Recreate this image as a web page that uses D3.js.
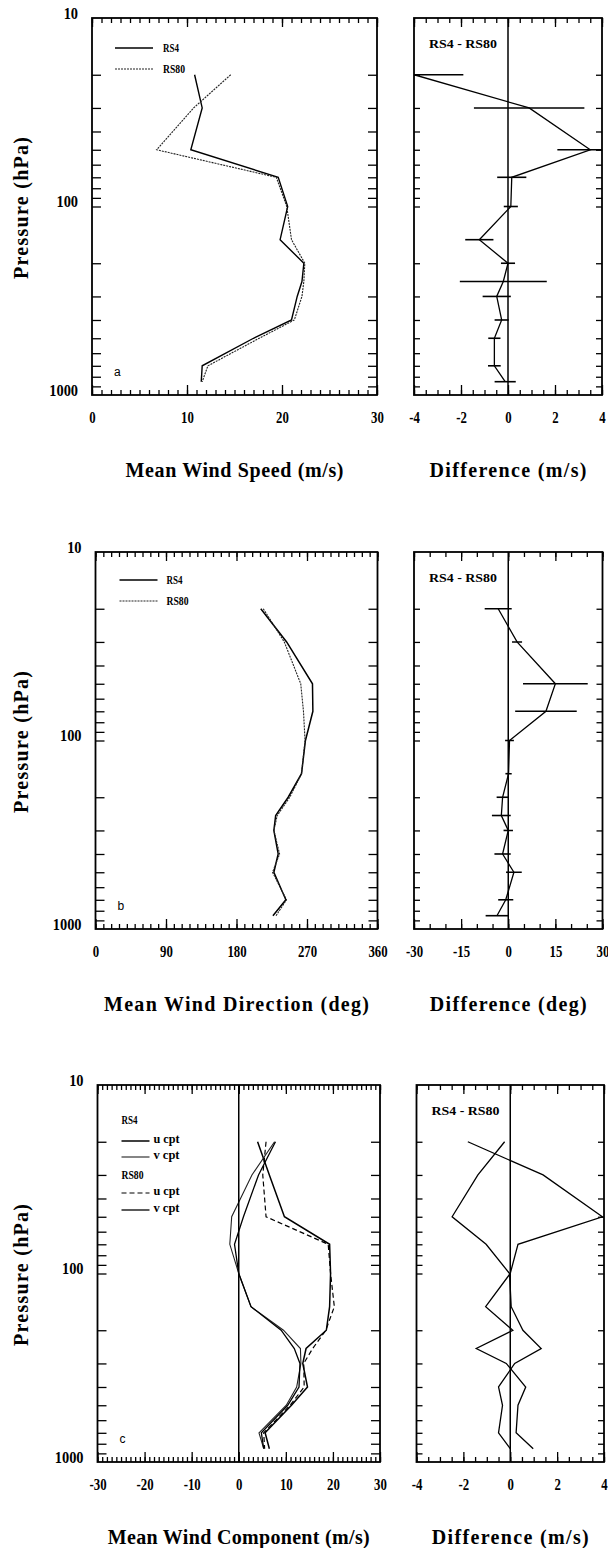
<!DOCTYPE html>
<html>
<head>
<meta charset="utf-8">
<script src="https://cdn.jsdelivr.net/npm/d3@7"></script>
<style>
  body { margin: 0; background: #fff; }
  svg { display: block; background: #fff; }
</style>
</head>
<body>
<svg id="chart" width="608" height="1548"></svg>
<script>
const svg = d3.select("#chart");
const SERIF = "'Liberation Serif', 'DejaVu Serif', serif";
const SANS = "'Liberation Sans', Arial, sans-serif";

// pressure levels (hPa) of the soundings
const levels = [20, 30, 50, 70, 100, 150, 200, 250, 300, 400, 500, 700, 850];
const pTicks = [20, 30, 40, 50, 60, 70, 80, 90, 100, 200, 300, 400, 500, 600, 700, 800, 900];
const pLabels = [10, 100, 1000];

// a: mean wind speed (m/s)
const speedRS4  = [10.8, 11.6, 10.4, 19.6, 20.6, 19.8, 22.3, 22.1, 21.6, 21.0, 17.0, 11.6, 11.5];
const speedRS80 = [14.6, 10.7, 6.8, 19.4, 20.5, 21.0, 22.4, 22.3, 22.1, 21.3, 17.6, 12.2, 11.6];
const speedDiff = [-4.0, 0.9, 3.5, 0.16, 0.12, -1.22, 0.0, -0.2, -0.48, -0.27, -0.58, -0.58, -0.12];
const speedErr  = [2.1, 2.35, 1.4, 0.62, 0.3, 0.6, 0.3, 1.85, 0.6, 0.3, 0.26, 0.27, 0.45];

// b: mean wind direction (deg)
const dirRS4  = [211, 244, 277, 277.5, 268, 263, 246, 230, 227.7, 233.2, 227.7, 243, 226.5];
const dirRS80 = [214.2, 241, 262, 265.5, 267.5, 263, 248, 232, 227.7, 235, 226, 243.8, 230.5];
const dirDiff = [-3.2, 2.8, 15.0, 12.0, 0.4, 0.1, -1.8, -2.2, 0.0, -1.8, 1.8, -0.8, -3.6];
const dirErr  = [4.3, 1.6, 10.3, 9.8, 1.4, 1.0, 1.9, 3.0, 1.5, 2.6, 2.5, 2.4, 3.6];

// c: mean wind components (m/s)
const uRS4  = [4.0, 6.5, 9.7, 19.3, 19.5, 19.3, 18.6, 14.3, 13.6, 14.6, 11.2, 5.6, 6.5];
const vRS4  = [7.6, 2.8, -1.5, -1.9, 0.0, 2.6, 9.5, 13.1, 13.2, 12.3, 10.1, 4.3, 5.3];
const uRS80 = [5.8, 5.1, 5.8, 19.0, 19.5, 20.3, 18.5, 15.7, 13.8, 13.9, 10.9, 5.3, 5.5];
const vRS80 = [7.8, 4.2, 1.0, -0.9, 0.0, 2.6, 9.0, 11.8, 13.0, 12.8, 10.4, 4.8, 5.3];
const uDiff = [-1.81, 1.4, 3.93, 0.33, 0.0, -1.05, 0.11, -1.45, -0.17, 0.66, 0.33, 0.25, 0.98];
const vDiff = [-0.24, -1.38, -2.48, -1.03, -0.03, 0.04, 0.54, 1.32, 0.19, -0.5, -0.33, -0.5, 0.0];

// x axis ticks
const speedMajor = [0, 10, 20, 30];
const dirMajor = [0, 90, 180, 270, 360];
const compMajor = [-30, -20, -10, 0, 10, 20, 30];
const diffMajor = [-4, -2, 0, 2, 4];
const dirDiffMajor = [-30, -15, 0, 15, 30];

const H = 377;
const rows = [
  { top: 18,   main: [92, 377],     diff: [414, 602] },
  { top: 552,  main: [95.5, 377.5], diff: [414, 602.5] },
  { top: 1085, main: [97.5, 380],   diff: [416.5, 604] }
];

const line = (x, y) => d3.line().x(d => x(d.v)).y(d => y(d.p));
const pairs = vals => vals.map((v, i) => ({ p: levels[i], v: v }));
let clipId = 0;

// box, inward ticks and bottom labels of one panel
function drawFrame(g, x, y, minor, major, pTick) {
  const [x0, x1] = x.range(), [y0, y1] = y.range();
  const clean = a => a.call(s => s.select(".domain").remove())
    .selectAll("line").attr("stroke-width", 1.3);

  g.append("g").attr("transform", `translate(${x0},0)`)
    .call(d3.axisLeft(y).tickValues(pTicks).tickSize(-pTick).tickFormat(""))
    .call(clean);
  g.append("g").attr("transform", `translate(${x1},0)`)
    .call(d3.axisRight(y).tickValues(pTicks).tickSize(-pTick).tickFormat(""))
    .call(clean);

  g.append("g").attr("transform", `translate(0,${y0})`)
    .call(d3.axisTop(x).tickValues(minor).tickSize(-5).tickFormat(""))
    .call(clean);
  g.append("g").attr("transform", `translate(0,${y0})`)
    .call(d3.axisTop(x).tickValues(major).tickSize(-9).tickFormat(""))
    .call(clean);
  g.append("g").attr("transform", `translate(0,${y1})`)
    .call(d3.axisBottom(x).tickValues(minor).tickSize(-5).tickFormat(""))
    .call(clean);
  const bottom = g.append("g").attr("transform", `translate(0,${y1})`)
    .call(d3.axisBottom(x).tickValues(major).tickSize(-10).tickPadding(17).tickFormat(d => String(d)));
  bottom.call(clean);
  bottom.attr("font-family", SERIF).attr("font-size", 16).attr("font-weight", "bold");
  bottom.selectAll("text").attr("transform", "scale(0.8,1)");

  g.append("rect")
    .attr("x", x0).attr("y", y0)
    .attr("width", x1 - x0).attr("height", y1 - y0)
    .attr("fill", "none").attr("stroke", "#000").attr("stroke-width", 1.8);

  const id = "clip" + (clipId++);
  g.append("clipPath").attr("id", id)
    .append("rect").attr("x", x0).attr("y", y0).attr("width", x1 - x0).attr("height", y1 - y0);
  return g.append("g").attr("clip-path", `url(#${id})`);
}

function pressureLabels(g, y, x0) {
  const ax = g.append("g").attr("transform", `translate(${x0},0)`)
    .call(d3.axisLeft(y).tickValues(pLabels).tickSize(0).tickPadding(15.5).tickFormat(d => String(d)));
  ax.select(".domain").remove();
  ax.attr("font-family", SERIF).attr("font-size", 16).attr("font-weight", "bold");
  ax.selectAll("text").attr("dy", "0em").attr("transform", "scale(0.9,1)");

  const [y0] = y.range();
  g.append("text")
    .attr("transform", `translate(28,${y0 + 190}) rotate(-90)`)
    .attr("text-anchor", "middle")
    .attr("font-family", SERIF).attr("font-size", 20).attr("font-weight", "bold")
    .attr("textLength", 142).attr("lengthAdjust", "spacing")
    .text("Pressure (hPa)");
}

function title(g, x, y, txt, len) {
  const [x0, x1] = x.range();
  g.append("text")
    .attr("x", (x0 + x1) / 2).attr("y", y.range()[1] + 82)
    .attr("text-anchor", "middle")
    .attr("font-family", SERIF).attr("font-size", 20).attr("font-weight", "bold")
    .attr("textLength", len).attr("lengthAdjust", "spacing")
    .text(txt);
}

function smallText(g, x, y, txt, len) {
  g.append("text").attr("x", x).attr("y", y)
    .attr("font-family", SERIF).attr("font-size", 11.5).attr("font-weight", "bold")
    .attr("textLength", len).attr("lengthAdjust", "spacingAndGlyphs")
    .text(txt);
}

function panelLetter(g, x, y, letter) {
  const [x0] = x.range(), [, y1] = y.range();
  g.append("text").attr("x", x0 + 22).attr("y", y1 - 19)
    .attr("font-family", SANS).attr("font-size", 12)
    .text(letter);
}

function zeroLine(g, x, y) {
  g.append("line")
    .attr("x1", x(0)).attr("x2", x(0))
    .attr("y1", y.range()[0]).attr("y2", y.range()[1])
    .attr("stroke", "#000").attr("stroke-width", 1.5);
}

function diffPanel(row, domain, minor, major, diff, err) {
  const g = svg.append("g");
  const x = d3.scaleLinear().domain(domain).range(row.diff);
  const y = d3.scaleLog().domain([10, 1000]).range([row.top, row.top + H]);
  const inner = drawFrame(g, x, y, minor, major, 6);
  zeroLine(g, x, y);
  smallText(g, row.diff[0] + 15, row.top + 30, "RS4 - RS80", 68);

  if (err) {
    inner.selectAll("line.err")
      .data(pairs(diff).map((d, i) => ({ ...d, e: err[i] })))
      .enter().append("line")
      .attr("x1", d => x(d.v - d.e)).attr("x2", d => x(d.v + d.e))
      .attr("y1", d => y(d.p)).attr("y2", d => y(d.p))
      .attr("stroke", "#000").attr("stroke-width", 1.6);
  }
  return { g, x, y, inner };
}

// ---------- a: wind speed ----------
{
  const row = rows[0];
  const g = svg.append("g");
  const x = d3.scaleLinear().domain([0, 30]).range(row.main);
  const y = d3.scaleLog().domain([10, 1000]).range([row.top, row.top + H]);
  const inner = drawFrame(g, x, y, d3.range(0, 31, 1), speedMajor, 9);
  pressureLabels(g, y, row.main[0]);
  title(g, x, y, "Mean Wind Speed (m/s)", 218);
  panelLetter(g, x, y, "a");

  inner.append("path").datum(pairs(speedRS4)).attr("d", line(x, y))
    .attr("fill", "none").attr("stroke", "#000").attr("stroke-width", 1.4);
  inner.append("path").datum(pairs(speedRS80)).attr("d", line(x, y))
    .attr("fill", "none").attr("stroke", "#222").attr("stroke-width", 1.1)
    .attr("stroke-dasharray", "2,1");

  const lx = row.main[0] + 23;
  g.append("line").attr("x1", lx).attr("x2", lx + 38).attr("y1", row.top + 30).attr("y2", row.top + 30)
    .attr("stroke", "#000").attr("stroke-width", 1.4);
  g.append("line").attr("x1", lx).attr("x2", lx + 38).attr("y1", row.top + 51).attr("y2", row.top + 51)
    .attr("stroke", "#222").attr("stroke-width", 1.1).attr("stroke-dasharray", "2,1");
  smallText(g, lx + 48, row.top + 34, "RS4", 16);
  smallText(g, lx + 48, row.top + 55, "RS80", 22);

  const d = diffPanel(row, [-4, 4], d3.range(-4, 4.01, 0.5), diffMajor, speedDiff, speedErr);
  title(d.g, d.x, d.y, "Difference (m/s)", 157);
  d.inner.append("path").datum(pairs(speedDiff)).attr("d", line(d.x, d.y))
    .attr("fill", "none").attr("stroke", "#000").attr("stroke-width", 1.3);
}

// ---------- b: wind direction ----------
{
  const row = rows[1];
  const g = svg.append("g");
  const x = d3.scaleLinear().domain([0, 360]).range(row.main);
  const y = d3.scaleLog().domain([10, 1000]).range([row.top, row.top + H]);
  const inner = drawFrame(g, x, y, d3.range(0, 361, 10), dirMajor, 9);
  pressureLabels(g, y, row.main[0]);
  title(g, x, y, "Mean Wind Direction (deg)", 265);
  panelLetter(g, x, y, "b");

  inner.append("path").datum(pairs(dirRS4)).attr("d", line(x, y))
    .attr("fill", "none").attr("stroke", "#000").attr("stroke-width", 1.5);
  inner.append("path").datum(pairs(dirRS80)).attr("d", line(x, y))
    .attr("fill", "none").attr("stroke", "#222").attr("stroke-width", 1.1)
    .attr("stroke-dasharray", "2,1");

  const lx = row.main[0] + 24;
  g.append("line").attr("x1", lx).attr("x2", lx + 38).attr("y1", row.top + 28).attr("y2", row.top + 28)
    .attr("stroke", "#000").attr("stroke-width", 1.4);
  g.append("line").attr("x1", lx).attr("x2", lx + 38).attr("y1", row.top + 49).attr("y2", row.top + 49)
    .attr("stroke", "#222").attr("stroke-width", 1.1).attr("stroke-dasharray", "2,1");
  smallText(g, lx + 47, row.top + 32, "RS4", 16);
  smallText(g, lx + 47, row.top + 53, "RS80", 22);

  const d = diffPanel(row, [-30, 30], d3.range(-30, 31, 5), dirDiffMajor, dirDiff, dirErr);
  title(d.g, d.x, d.y, "Difference (deg)", 157);
  d.inner.append("path").datum(pairs(dirDiff)).attr("d", line(d.x, d.y))
    .attr("fill", "none").attr("stroke", "#000").attr("stroke-width", 1.3);
}

// ---------- c: wind components ----------
{
  const row = rows[2];
  const g = svg.append("g");
  const x = d3.scaleLinear().domain([-30, 30]).range(row.main);
  const y = d3.scaleLog().domain([10, 1000]).range([row.top, row.top + H]);
  const inner = drawFrame(g, x, y, d3.range(-30, 31, 1), compMajor, 9);
  zeroLine(g, x, y);
  pressureLabels(g, y, row.main[0]);
  title(g, x, y, "Mean Wind Component (m/s)", 262);
  panelLetter(g, x, y, "c");

  const series = [
    { vals: uRS4,  color: "#000", w: 1.5, dash: null },
    { vals: vRS4,  color: "#222", w: 1.1, dash: null },
    { vals: uRS80, color: "#000", w: 1.2, dash: "5,3" },
    { vals: vRS80, color: "#000", w: 1.3, dash: null }
  ];
  series.forEach(s => {
    inner.append("path").datum(pairs(s.vals)).attr("d", line(x, y))
      .attr("fill", "none").attr("stroke", s.color).attr("stroke-width", s.w)
      .attr("stroke-dasharray", s.dash);
  });

  // legend
  const lx = row.main[0] + 24;
  smallText(g, lx, row.top + 39, "RS4", 16);
  smallText(g, lx, row.top + 94, "RS80", 22);
  const ly = [56, 72, 108, 125];
  series.forEach((s, i) => {
    g.append("line").attr("x1", lx).attr("x2", lx + 28)
      .attr("y1", row.top + ly[i]).attr("y2", row.top + ly[i])
      .attr("stroke", s.color).attr("stroke-width", s.w).attr("stroke-dasharray", s.dash);
    smallText(g, lx + 32, row.top + ly[i] + 2, i % 2 ? "v  cpt" : "u  cpt", 26);
  });

  const d = diffPanel(row, [-4, 4], d3.range(-4, 4.01, 0.5), diffMajor, uDiff, null);
  title(d.g, d.x, d.y, "Difference (m/s)", 157);
  [uDiff, vDiff].forEach(vals => {
    d.inner.append("path").datum(pairs(vals)).attr("d", line(d.x, d.y))
      .attr("fill", "none").attr("stroke", "#000").attr("stroke-width", 1.3);
  });
}
</script>
</body>
</html>
